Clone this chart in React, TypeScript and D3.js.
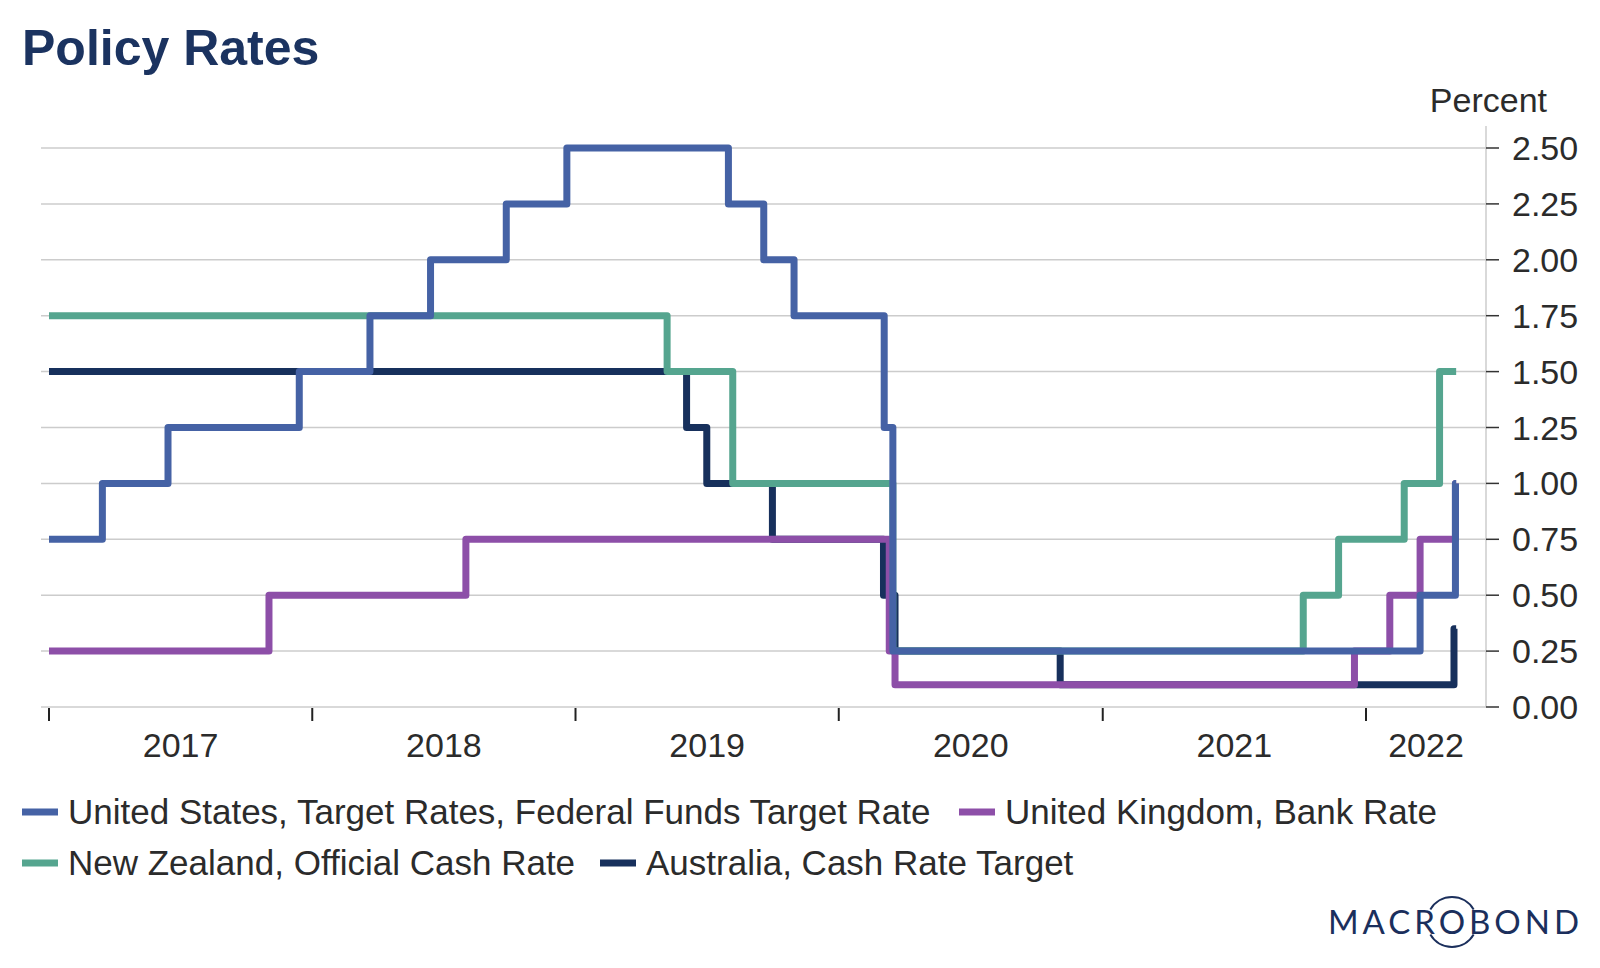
import React from "react";
import * as d3 from "d3";

// ---------- DATA ----------
const END_DATE = "2022-05-06";

const usDates = ["2017-01-01", "2017-03-16", "2017-06-15", "2017-12-14", "2018-03-22", "2018-06-14", "2018-09-27", "2018-12-20", "2019-08-01", "2019-09-19", "2019-10-31", "2020-03-04", "2020-03-16", "2022-03-17", "2022-05-05"];
const usRates = [0.75, 1.0, 1.25, 1.5, 1.75, 2.0, 2.25, 2.5, 2.25, 2.0, 1.75, 1.25, 0.25, 0.5, 1.0];

const ukDates = ["2017-01-01", "2017-11-02", "2018-08-02", "2020-03-11", "2020-03-19", "2021-12-16", "2022-02-03", "2022-03-17", "2022-05-05"];
const ukRates = [0.25, 0.5, 0.75, 0.25, 0.1, 0.25, 0.5, 0.75, 1.0];

const nzDates = ["2017-01-01", "2019-05-08", "2019-08-07", "2020-03-16", "2021-10-06", "2021-11-24", "2022-02-23", "2022-04-13"];
const nzRates = [1.75, 1.5, 1.0, 0.25, 0.5, 0.75, 1.0, 1.5];

const auDates = ["2017-01-01", "2019-06-04", "2019-07-02", "2019-10-01", "2020-03-03", "2020-03-19", "2020-11-03", "2022-05-03"];
const auRates = [1.5, 1.25, 1.0, 0.75, 0.5, 0.25, 0.1, 0.35];

const yTicks = [0, 0.25, 0.5, 0.75, 1.0, 1.25, 1.5, 1.75, 2.0, 2.25, 2.5];
const yearLabels = ["2017", "2018", "2019", "2020", "2021", "2022"];

const seriesNames = [
  "United States, Target Rates, Federal Funds Target Rate",
  "United Kingdom, Bank Rate",
  "New Zealand, Official Cash Rate",
  "Australia, Cash Rate Target",
];

// ---------- STYLE ----------
const COLORS = {
  us: "#4562a5",
  uk: "#8d4fa8",
  nz: "#55a58f",
  au: "#17305c",
};
const TITLE_COLOR = "#1b3360";
const TEXT_COLOR = "#2b2b2b";
const GRID_COLOR = "#cccccc";
const FONT = "'Liberation Sans', Arial, sans-serif";

const parse = d3.timeParse("%Y-%m-%d");

type Pt = { d: Date; v: number };
function buildSeries(dates: string[], rates: number[]): Pt[] {
  const pts = dates.map((s, i) => ({ d: parse(s) as Date, v: rates[i] }));
  pts.push({ d: parse(END_DATE) as Date, v: rates[rates.length - 1] });
  return pts;
}

export default function App() {
  const W = 1600;
  const H = 968;
  const plotLeft = 41;
  const axisX = 1486;
  const yTop = 126;

  const x = d3
    .scaleTime()
    .domain([new Date(2017, 0, 1), new Date(2022, 0, 1)])
    .range([49, 1366]);
  const y = d3.scaleLinear().domain([0, 2.5]).range([707, 148]);

  const line = d3
    .line<Pt>()
    .x((p) => x(p.d))
    .y((p) => y(p.v))
    .curve(d3.curveStepAfter);

  // drawn bottom to top
  const layers = [
    { key: "au", data: buildSeries(auDates, auRates), color: COLORS.au },
    { key: "nz", data: buildSeries(nzDates, nzRates), color: COLORS.nz },
    { key: "uk", data: buildSeries(ukDates, ukRates), color: COLORS.uk },
    { key: "us", data: buildSeries(usDates, usRates), color: COLORS.us },
  ];

  const yearStarts = yearLabels.map((yr) => new Date(+yr, 0, 1));

  const legendItems = [
    { name: seriesNames[0], color: COLORS.us, sx: 22, row: 0 },
    { name: seriesNames[1], color: COLORS.uk, sx: 959, row: 0 },
    { name: seriesNames[2], color: COLORS.nz, sx: 22, row: 1 },
    { name: seriesNames[3], color: COLORS.au, sx: 600, row: 1 },
  ];
  const legendRowY = [812, 863];

  const logoCx = 1452;
  const logoCy = 922;
  const arcTop = d3.arc()({
    innerRadius: 24,
    outerRadius: 26,
    startAngle: -Math.PI / 3,
    endAngle: Math.PI / 3,
  } as any) as string;
  const arcBottom = d3.arc()({
    innerRadius: 24,
    outerRadius: 26,
    startAngle: Math.PI - Math.PI / 3,
    endAngle: Math.PI + Math.PI / 3,
  } as any) as string;

  return (
    <svg
      width={W}
      height={H}
      viewBox={`0 0 ${W} ${H}`}
      style={{ position: "absolute", left: 0, top: 0, background: "#fff" }}
      fontFamily={FONT}
    >
      <rect x={0} y={0} width={W} height={H} fill="#fff" />
      {/* Title */}
      <text x={22} y={65} fontSize={50} fontWeight="bold" fill={TITLE_COLOR}>
        Policy Rates
      </text>

      {/* Percent label */}
      <text x={1547} y={112} fontSize={34} textAnchor="end" fill={TEXT_COLOR}>
        Percent
      </text>

      {/* Grid lines */}
      {yTicks.map((t) => (
        <line
          key={"g" + t}
          x1={plotLeft}
          x2={axisX}
          y1={y(t)}
          y2={y(t)}
          stroke={GRID_COLOR}
          strokeWidth={1.5}
        />
      ))}

      {/* Right axis */}
      <line x1={axisX} x2={axisX} y1={yTop} y2={y(0)} stroke={GRID_COLOR} strokeWidth={1.5} />
      {yTicks.map((t) => (
        <g key={"yt" + t}>
          <line x1={axisX} x2={axisX + 13} y1={y(t)} y2={y(t)} stroke="#333" strokeWidth={1.5} />
          <text x={1512} y={y(t) + 12} fontSize={34} fill={TEXT_COLOR}>
            {d3.format(".2f")(t)}
          </text>
        </g>
      ))}

      {/* X axis ticks & labels */}
      {yearStarts.map((d, i) => {
        const x0 = x(d);
        const next = i < yearStarts.length - 1 ? x(yearStarts[i + 1]) : axisX;
        return (
          <g key={"xt" + i}>
            <line x1={x0} x2={x0} y1={708} y2={721} stroke="#222" strokeWidth={2} />
            <text x={(x0 + next) / 2} y={757} fontSize={34} textAnchor="middle" fill={TEXT_COLOR}>
              {yearLabels[i]}
            </text>
          </g>
        );
      })}

      {/* Series */}
      {layers.map((l) => (
        <path
          key={l.key}
          d={line(l.data) as string}
          fill="none"
          stroke={l.color}
          strokeWidth={7}
          strokeLinejoin="round"
          strokeLinecap="butt"
        />
      ))}

      {/* Legend */}
      {legendItems.map((it, i) => (
        <g key={"lg" + i}>
          <line
            x1={it.sx}
            x2={it.sx + 36}
            y1={legendRowY[it.row]}
            y2={legendRowY[it.row]}
            stroke={it.color}
            strokeWidth={7}
          />
          <text x={it.sx + 46} y={legendRowY[it.row] + 12} fontSize={35} fill={TEXT_COLOR}>
            {it.name}
          </text>
        </g>
      ))}

      {/* Logo */}
      <text
        x={1328}
        y={934}
        fontSize={33}
        fontFamily="Lato, 'DejaVu Sans', sans-serif"
        fontWeight={400}
        fill="#1b2f5c"
        textLength={251}
        lengthAdjust="spacing"
      >
        MACROBOND
      </text>
      <path d={arcTop} transform={`translate(${logoCx},${logoCy})`} fill="#1b2f5c" />
      <path d={arcBottom} transform={`translate(${logoCx},${logoCy})`} fill="#1b2f5c" />
    </svg>
  );
}
